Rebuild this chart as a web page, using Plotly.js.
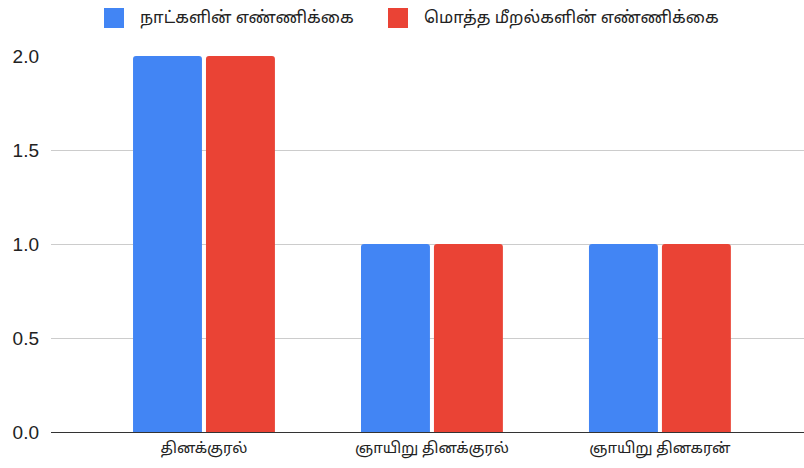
<!DOCTYPE html>
<html>
<head>
<meta charset="utf-8">
<script src="https://cdn.plot.ly/plotly-3.0.1.min.js"></script>
<style>html,body{margin:0;padding:0;background:#fff;}#chart{width:804px;height:468px;}</style>
</head>
<body>
<div id="chart"></div>
<script>
const categories = ["தினக்குரல்", "ஞாயிறு தினக்குரல்", "ஞாயிறு தினகரன்"];
const seriesNames = ["நாட்களின் எண்ணிக்கை", "மொத்த மீறல்களின் எண்ணிக்கை"];
const daysCount = [2, 1, 1];
const violationsCount = [2, 1, 1];
const seriesColors = ["#4285F4", "#EA4335"];
const yTickVals = [0, 0.5, 1, 1.5, 2];
const yTickText = ["0.0", "0.5", "1.0", "1.5", "2.0"];

const FONT = "'Noto Sans Tamil', 'Noto Sans', Roboto, Arial, sans-serif";
const W = 804, H = 468, ML = 51, MR = 0, MT = 56, MB = 36;
const PW = W - ML - MR, PH = H - MT - MB;

const traces = [daysCount, violationsCount].map((vals, i) => ({
  type: "bar",
  name: seriesNames[i],
  x: categories,
  y: vals,
  marker: {color: seriesColors[i], cornerradius: 3},
  hoverinfo: "x+y+name"
}));

// custom legend (20px squares like the original)
const legendX = [104, 388];
const shapes = [], annotations = [];
legendX.forEach((px, i) => {
  const x0 = (px - ML) / PW, x1 = (px + 20 - ML) / PW;
  const y0 = (H - MB - 28) / PH, y1 = (H - MB - 8) / PH;
  shapes.push({type: "rect", xref: "paper", yref: "paper", x0, x1, y0, y1,
    fillcolor: seriesColors[i], line: {width: 0}});
  annotations.push({xref: "paper", yref: "paper", x: (px + 34 - ML) / PW, y: (H - MB - 18) / PH,
    xanchor: "left", yanchor: "middle", showarrow: false, text: seriesNames[i],
    font: {family: FONT, size: 16.6, color: "#222"}});
});

const layout = {
  width: W, height: H,
  margin: {l: ML, r: MR, t: MT, b: MB, pad: 0},
  paper_bgcolor: "#fff", plot_bgcolor: "#fff",
  showlegend: false,
  barmode: "group",
  bargap: 0.36,
  bargroupgap: 0.055,
  font: {family: FONT, size: 15, color: "#222"},
  xaxis: {
    type: "category",
    range: [-0.671, 2.632],
    showgrid: false,
    showline: true, linecolor: "#333", linewidth: 1,
    ticks: "", ticklabelstandoff: 2,
    tickfont: {family: FONT, size: 15, color: "#222"},
    fixedrange: true
  },
  yaxis: {
    range: [0, 2],
    tickvals: yTickVals, ticktext: yTickText,
    showgrid: true, gridcolor: "#cccccc", gridwidth: 1,
    zeroline: false, showline: false,
    ticks: "", ticklabelstandoff: 11,
    tickfont: {family: "'Liberation Sans', Arial, sans-serif", size: 19, color: "#222"},
    fixedrange: true
  },
  shapes, annotations
};

Plotly.newPlot("chart", traces, layout, {displayModeBar: false, staticPlot: true});
</script>
</body>
</html>
